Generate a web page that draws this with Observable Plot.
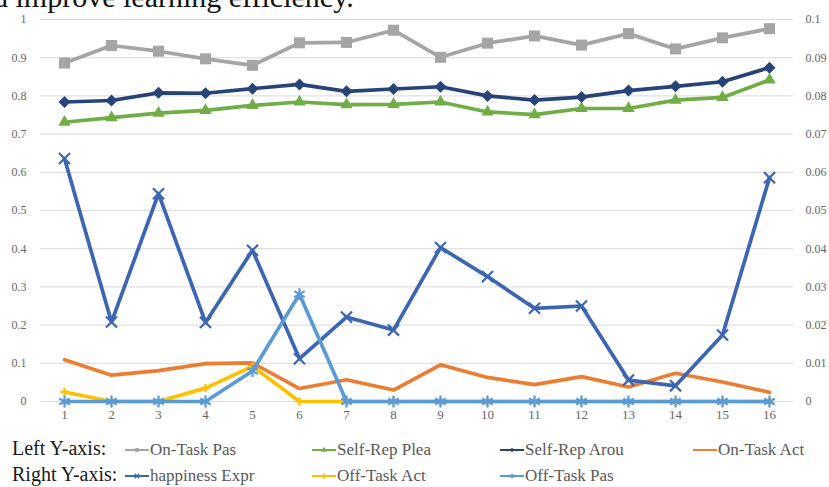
<!DOCTYPE html>
<html>
<head>
<meta charset="utf-8">
<script src="https://cdn.jsdelivr.net/npm/d3@7"></script>
<script src="https://cdn.jsdelivr.net/npm/@observablehq/plot@0.6"></script>
<style>
  body { margin: 0; background: #fff; }
  #wrap { position: relative; width: 829px; height: 487px; overflow: hidden; font-family: "Liberation Serif", "Times New Roman", serif; }
  #title { position: absolute; left: -7px; top: -18px; font-size: 30px; line-height: 30px; color: #111; white-space: nowrap; }
  #chart { position: absolute; left: 0; top: 0; }
  .lab { position: absolute; font-size: 20px; line-height: 20px; color: #1a1a1a; white-space: nowrap; }
  .item { position: absolute; font-size: 17px; line-height: 17px; color: #595959; white-space: nowrap; }
  .swatch { position: absolute; }
</style>
</head>
<body>
<div id="wrap">
  <div id="chart"></div>
  <div id="title">d improve learning efficiency.</div>
  <div id="legend"></div>
</div>
<script>
// ---------- data ----------
const categories = [1, 2, 3, 4, 5, 6, 7, 8, 9, 10, 11, 12, 13, 14, 15, 16];

// left Y-axis series
const onTaskPas   = [0.886, 0.932, 0.917, 0.897, 0.880, 0.939, 0.940, 0.972, 0.901, 0.938, 0.957, 0.933, 0.963, 0.923, 0.952, 0.976];
const selfRepPlea = [0.731, 0.743, 0.755, 0.762, 0.775, 0.784, 0.777, 0.778, 0.784, 0.758, 0.751, 0.767, 0.767, 0.789, 0.796, 0.842];
const selfRepArou = [0.784, 0.788, 0.808, 0.807, 0.819, 0.830, 0.812, 0.818, 0.824, 0.800, 0.789, 0.797, 0.814, 0.825, 0.837, 0.874];
const onTaskAct   = [0.109, 0.069, 0.081, 0.099, 0.101, 0.034, 0.057, 0.030, 0.096, 0.063, 0.044, 0.065, 0.038, 0.074, 0.051, 0.024];

// right Y-axis series
const happinessExpr = [0.0636, 0.0208, 0.0544, 0.0207, 0.0396, 0.0112, 0.0221, 0.0187, 0.0403, 0.0327, 0.0244, 0.0250, 0.0056, 0.0041, 0.0174, 0.0586];
const offTaskAct    = [0.0025, 0, 0, 0.0035, 0.0092, 0, 0, 0, 0, 0, 0, 0, 0, 0, 0, 0];
const offTaskPas    = [0, 0, 0, 0, 0.0080, 0.0281, 0, 0, 0, 0, 0, 0, 0, 0, 0, 0];

// axes
const leftTicks = [0, 0.1, 0.2, 0.3, 0.4, 0.5, 0.6, 0.7, 0.8, 0.9, 1];
const leftTickLabels = ["0", "0.1", "0.2", "0.3", "0.4", "0.5", "0.6", "0.7", "0.8", "0.9", "1"];
const rightTickLabels = ["0", "0.01", "0.02", "0.03", "0.04", "0.05", "0.06", "0.07", "0.08", "0.09", "0.1"];
const leftMax = 1, rightMax = 0.1;
const rightToLeft = leftMax / rightMax;

const legendRowLabels = ["Left Y-axis:", "Right Y-axis:"];

// ---------- series definitions ----------
const series = [
  { name: "On-Task Pas",    values: onTaskPas,     axis: "left",  color: "#a5a5a5", symbol: "square",   filled: true,  r: 6.2, row: 0, col: 0 },
  { name: "Self-Rep Plea",  values: selfRepPlea,   axis: "left",  color: "#70ad47", symbol: "triangle", filled: true,  r: 4.6, row: 0, col: 1 },
  { name: "Self-Rep Arou",  values: selfRepArou,   axis: "left",  color: "#264478", symbol: "diamond2", filled: true,  r: 5.4, row: 0, col: 2 },
  { name: "On-Task Act",    values: onTaskAct,     axis: "left",  color: "#ed7d31", symbol: null,       filled: false, r: 0,   row: 0, col: 3 },
  { name: "happiness Expr", values: happinessExpr, axis: "right", color: "#3c66b3", symbol: "times",    filled: false, r: 5.1, row: 1, col: 0 },
  { name: "Off-Task Act",   values: offTaskAct,    axis: "right", color: "#ffc000", symbol: "plus",     filled: false, r: 2.8, row: 1, col: 1 },
  { name: "Off-Task Pas",   values: offTaskPas,    axis: "right", color: "#5b9bd5", symbol: "asterisk", filled: false, r: 5.7, row: 1, col: 2 }
];

const toRows = s => categories.map((c, i) => ({
  x: c,
  y: s.axis === "right" ? s.values[i] * rightToLeft : s.values[i]
}));

const marks = [
  Plot.ruleY(leftTicks, { stroke: "#d9d9d9", strokeWidth: 1 }),
  Plot.axisY(leftTicks, {
    anchor: "left", tickSize: 0, tickPadding: 14, fontSize: 12, label: null,
    fill: "#666666", tickFormat: (d, i) => leftTickLabels[i]
  }),
  Plot.axisY(leftTicks, {
    anchor: "right", tickSize: 0, tickPadding: 12, fontSize: 12, label: null,
    fill: "#666666", tickFormat: (d, i) => rightTickLabels[i]
  }),
  Plot.axisX(categories, {
    anchor: "bottom", tickSize: 0, tickPadding: 8, fontSize: 13, label: null,
    fill: "#666666", tickFormat: d => String(d)
  })
];

for (const s of series) {
  const data = toRows(s);
  marks.push(Plot.line(data, { x: "x", y: "y", stroke: s.color, strokeWidth: 3.7, strokeLinejoin: "round", strokeLinecap: "round" }));
  if (s.symbol) {
    if (s.filled) {
      marks.push(Plot.dot(data, { x: "x", y: "y", symbol: () => s.symbol, r: s.r, fill: s.color, stroke: "none" }));
    } else {
      marks.push(Plot.dot(data, { x: "x", y: "y", symbol: () => s.symbol, r: s.r, fill: "none", stroke: s.color, strokeWidth: 2.2 }));
    }
  }
}

const chart = Plot.plot({
  width: 829,
  height: 430,
  marginTop: 19,
  marginBottom: 29,
  marginLeft: 40,
  marginRight: 36,
  style: { fontFamily: "'Liberation Serif', 'Times New Roman', serif", background: "transparent" },
  x: { type: "point", domain: categories, padding: 0.5, axis: null, label: null },
  y: { domain: [0, leftMax], axis: null, label: null },
  symbol: { type: "identity" },
  marks
});
document.getElementById("chart").appendChild(chart);

// ---------- legend ----------
const legend = document.getElementById("legend");
const rowBaselines = [455, 481];
const colTextX = [150, 337, 525, 718];
legendRowLabels.forEach((t, r) => {
  const el = document.createElement("div");
  el.className = "lab";
  el.textContent = t;
  el.style.left = "12px";
  el.style.top = (rowBaselines[r] - 16.75) + "px";
  legend.appendChild(el);
});
for (const s of series) {
  const tx = colTextX[s.col];
  const base = rowBaselines[s.row];
  const sw = d3.create("svg").attr("class", "swatch").attr("width", 26).attr("height", 12)
    .style("left", (tx - 26) + "px").style("top", (base - 11) + "px");
  sw.append("line").attr("x1", 1).attr("x2", 25).attr("y1", 6).attr("y2", 6)
    .attr("stroke", s.color).attr("stroke-width", 2);
  if (s.symbol) {
    const symMap = { square: d3.symbolSquare, triangle: d3.symbolTriangle, diamond2: d3.symbolDiamond2, times: d3.symbolTimes, plus: d3.symbolPlus, asterisk: d3.symbolAsterisk };
    const p = sw.append("path").attr("transform", "translate(13,6)")
      .attr("d", d3.symbol(symMap[s.symbol], 14)());
    if (s.filled) p.attr("fill", s.color); else p.attr("fill", "none").attr("stroke", s.color).attr("stroke-width", 1.3);
  }
  legend.appendChild(sw.node());
  const el = document.createElement("div");
  el.className = "item";
  el.textContent = s.name;
  el.style.left = tx + "px";
  el.style.top = (base - 14.2) + "px";
  legend.appendChild(el);
}
</script>
</body>
</html>
